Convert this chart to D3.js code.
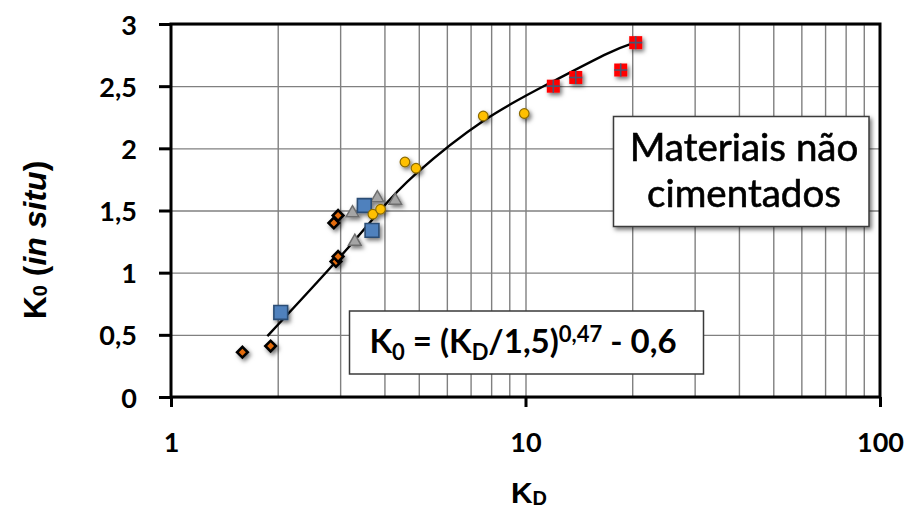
<!DOCTYPE html>
<html>
<head>
<meta charset="utf-8">
<script src="https://cdn.jsdelivr.net/npm/d3@7"></script>
<style>
  body { margin: 0; background: #fff; }
</style>
</head>
<body>
<div id="chart"></div>
<script>
// values (KD on log axis, K0 in situ)
var diamondKd = [1.59, 1.91, 2.88, 2.96, 2.92, 2.96];
var diamondK0 = [0.36, 0.41, 1.40, 1.46, 1.09, 1.13];

var squareKd = [2.04, 3.51, 3.69];
var squareK0 = [0.68, 1.54, 1.34];

var triangleKd = [3.25, 3.30, 3.82, 4.29];
var triangleK0 = [1.48, 1.25, 1.60, 1.58];

var circleKd = [3.71, 3.90, 4.57, 4.91, 7.60, 9.92];
var circleK0 = [1.47, 1.51, 1.89, 1.84, 2.26, 2.28];

var redKd = [11.98, 13.86, 18.56, 20.46];
var redK0 = [2.50, 2.57, 2.63, 2.85];

// trend curve as drawn in the figure
var curveKd = [1.87, 2.92, 3.89, 4.93, 7.60, 11.98, 16.95, 20.3];
var curveK0 = [0.49, 1.09, 1.50, 1.80, 2.22, 2.54, 2.76, 2.85];

var xTicks = [1, 10, 100];
var xTickLabels = ["1", "10", "100"];
var yTicks = [0, 0.5, 1, 1.5, 2, 2.5, 3];
var yTickLabels = ["0", "0,5", "1", "1,5", "2", "2,5", "3"];
var xGridValues = [2, 3, 4, 5, 6, 7, 8, 9, 10, 20, 30, 40, 50, 60, 70, 80, 90];

var width = 908,
    height = 508;
var plot = {left: 171, right: 880, top: 24, bottom: 397};

var x = d3.scaleLog().domain([1, 100]).range([plot.left, plot.right]);
var y = d3.scaleLinear().domain([0, 3]).range([plot.bottom, plot.top]);

var svg = d3.select("#chart").append("svg")
    .attr("width", width)
    .attr("height", height);

var defs = svg.append("defs");
defs.append("filter")
    .attr("id", "shadow")
    .attr("x", "-50%").attr("y", "-50%")
    .attr("width", "200%").attr("height", "200%")
  .append("feDropShadow")
    .attr("dx", 2).attr("dy", 2.5)
    .attr("stdDeviation", 2)
    .attr("flood-color", "#000")
    .attr("flood-opacity", 0.55);

//
// grid
//
svg.append("g")
    .attr("transform", "translate(0," + plot.bottom + ")")
    .call(d3.axisBottom(x).tickValues(xGridValues).tickSize(-(plot.bottom - plot.top)).tickFormat(""))
    .call(function(g) { g.select(".domain").remove(); })
    .selectAll("line")
    .attr("stroke", "#808080")
    .attr("stroke-width", 1.4);

svg.append("g")
    .attr("transform", "translate(" + plot.left + ",0)")
    .call(d3.axisLeft(y).tickValues(yTicks).tickSize(-(plot.right - plot.left)).tickFormat(""))
    .call(function(g) { g.select(".domain").remove(); })
    .selectAll("line")
    .attr("stroke", "#808080")
    .attr("stroke-width", 1.4);

// plot frame
svg.append("rect")
    .attr("x", plot.left)
    .attr("y", plot.top)
    .attr("width", plot.right - plot.left)
    .attr("height", plot.bottom - plot.top)
    .attr("fill", "none")
    .attr("stroke", "#000")
    .attr("stroke-width", 3);

//
// axes
//
var yAxis = svg.append("g")
    .attr("transform", "translate(" + plot.left + ",0)")
    .call(d3.axisLeft(y).tickValues(yTicks).tickSize(12).tickPadding(22)
      .tickFormat(function(d, i) { return yTickLabels[i]; }));
yAxis.select(".domain").remove();
yAxis.selectAll("line").attr("stroke", "#000").attr("stroke-width", 3);
yAxis.selectAll("text")
    .attr("dy", 10)
    .attr("font-family", "Lato")
    .attr("font-weight", "bold")
    .attr("font-size", "27px")
    .attr("fill", "#000");

var xAxis = svg.append("g")
    .attr("transform", "translate(0," + plot.bottom + ")")
    .call(d3.axisBottom(x).tickValues(xTicks).tickSize(10)
      .tickFormat(function(d, i) { return xTickLabels[i]; }));
xAxis.select(".domain").remove();
xAxis.selectAll("line").attr("stroke", "#000").attr("stroke-width", 3);
xAxis.selectAll("text")
    .attr("y", 55)
    .attr("dy", 0)
    .attr("font-family", "Lato")
    .attr("font-weight", "bold")
    .attr("font-size", "27px")
    .attr("fill", "#000");

// axis titles
var xTitle = svg.append("text")
    .attr("x", 529)
    .attr("y", 503)
    .attr("text-anchor", "middle")
    .attr("font-family", "Liberation Sans")
    .attr("font-weight", "bold")
    .attr("font-size", "30px")
    .attr("fill", "#000");
xTitle.append("tspan").text("K");
xTitle.append("tspan").attr("font-size", "20px").attr("dy", 2).text("D");

var yTitle = svg.append("text")
    .attr("transform", "translate(46,240) rotate(-90)")
    .attr("text-anchor", "middle")
    .attr("font-family", "Liberation Sans")
    .attr("font-weight", "bold")
    .attr("font-size", "32px")
    .attr("fill", "#000");
yTitle.append("tspan").text("K");
yTitle.append("tspan").attr("font-size", "20px").attr("dy", 1).text("0");
yTitle.append("tspan").attr("dy", -1).text(" (");
yTitle.append("tspan").attr("font-style", "italic").text("in situ");
yTitle.append("tspan").text(")");

//
// trend curve
//
var curveData = curveKd.map(function(d, i) { return {kd: d, k0: curveK0[i]}; });
svg.append("path")
    .datum(curveData)
    .attr("fill", "none")
    .attr("stroke", "#000")
    .attr("stroke-width", 2.4)
    .attr("d", d3.line()
      .x(function(d) { return x(d.kd); })
      .y(function(d) { return y(d.k0); })
      .curve(d3.curveNatural));

//
// markers
//
function pairs(a, b) { return a.map(function(d, i) { return {kd: d, k0: b[i]}; }); }
var marks = svg.append("g").attr("filter", "url(#shadow)");

marks.selectAll("path.tri")
    .data(pairs(triangleKd, triangleK0))
    .enter().append("path")
    .attr("class", "tri")
    .attr("transform", function(d) { return "translate(" + x(d.kd) + "," + y(d.k0) + ")"; })
    .attr("d", d3.symbol().type(d3.symbolTriangle).size(70))
    .attr("fill", "#a5a5a5")
    .attr("stroke", "#6e6e6e")
    .attr("stroke-width", 1.5);

marks.selectAll("path.dia")
    .data(pairs(diamondKd, diamondK0))
    .enter().append("path")
    .attr("class", "dia")
    .attr("transform", function(d) { return "translate(" + x(d.kd) + "," + y(d.k0) + ") rotate(45)"; })
    .attr("d", d3.symbol().type(d3.symbolSquare).size(56))
    .attr("fill", "#e46c0a")
    .attr("stroke", "#000")
    .attr("stroke-width", 2.6);

marks.selectAll("path.sq")
    .data(pairs(squareKd, squareK0))
    .enter().append("path")
    .attr("class", "sq")
    .attr("transform", function(d) { return "translate(" + x(d.kd) + "," + y(d.k0) + ")"; })
    .attr("d", d3.symbol().type(d3.symbolSquare).size(190))
    .attr("fill", "#4f81bd")
    .attr("stroke", "#2c4d75")
    .attr("stroke-width", 1.6);

marks.selectAll("circle")
    .data(pairs(circleKd, circleK0))
    .enter().append("circle")
    .attr("cx", function(d) { return x(d.kd); })
    .attr("cy", function(d) { return y(d.k0); })
    .attr("r", 4.8)
    .attr("fill", "#ffc000")
    .attr("stroke", "#8a6a00")
    .attr("stroke-width", 1.2);

var red = marks.selectAll("g.red")
    .data(pairs(redKd, redK0))
    .enter().append("g")
    .attr("class", "red")
    .attr("transform", function(d) { return "translate(" + x(d.kd) + "," + y(d.k0) + ")"; });
red.append("rect")
    .attr("x", -6.5).attr("y", -6.5)
    .attr("width", 13).attr("height", 13)
    .attr("fill", "#ff0000");
red.append("path")
    .attr("d", "M-6.5,0H6.5M0,-6.5V6.5")
    .attr("stroke", "#4a5570")
    .attr("stroke-width", 1.6);

//
// text boxes
//
svg.append("rect")
    .attr("x", 349.5)
    .attr("y", 311)
    .attr("width", 354)
    .attr("height", 63)
    .attr("fill", "#fff")
    .attr("stroke", "#3a3a3a")
    .attr("stroke-width", 1.5);

var formula = svg.append("text")
    .attr("x", 523)
    .attr("y", 353)
    .attr("text-anchor", "middle")
    .attr("font-family", "Lato")
    .attr("font-weight", "bold")
    .attr("font-size", "33px")
    .attr("fill", "#000");
formula.append("tspan").text("K");
formula.append("tspan").attr("font-size", "22px").attr("dy", 7).text("0");
formula.append("tspan").attr("dy", -7).text(" = (K");
formula.append("tspan").attr("font-size", "22px").attr("dy", 7).text("D");
formula.append("tspan").attr("dy", -7).text("/1,5)");
formula.append("tspan").attr("font-size", "22px").attr("dy", -11).text("0,47");
formula.append("tspan").attr("dy", 11).text(" - 0,6");

svg.append("rect")
    .attr("x", 613.5)
    .attr("y", 116.5)
    .attr("width", 255.5)
    .attr("height", 110)
    .attr("fill", "#fff")
    .attr("stroke", "#3a3a3a")
    .attr("stroke-width", 1.5)
    .attr("filter", "url(#shadow)");

svg.append("text")
    .attr("x", 744)
    .attr("y", 161)
    .attr("text-anchor", "middle")
    .attr("font-family", "Lato")
    .attr("font-size", "38.5px")
    .attr("stroke", "#000")
    .attr("stroke-width", 0.6)
    .attr("fill", "#000")
    .text("Materiais não");

svg.append("text")
    .attr("x", 744)
    .attr("y", 207)
    .attr("text-anchor", "middle")
    .attr("font-family", "Lato")
    .attr("font-size", "38.5px")
    .attr("stroke", "#000")
    .attr("stroke-width", 0.6)
    .attr("fill", "#000")
    .text("cimentados");
</script>
</body>
</html>
